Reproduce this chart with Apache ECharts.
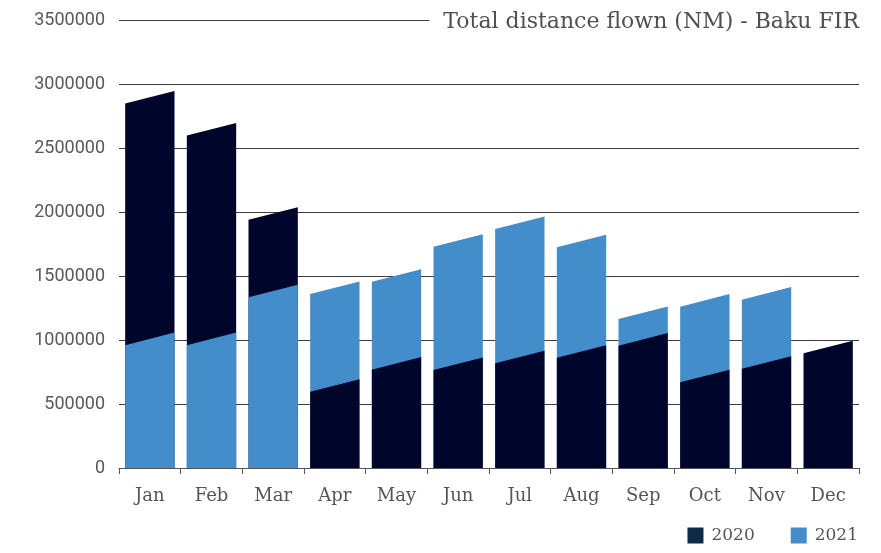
<!DOCTYPE html>
<html>
<head>
<meta charset="utf-8">
<script src="https://cdn.jsdelivr.net/npm/echarts@6/dist/echarts.min.js"></script>
<style>
html,body{margin:0;padding:0;background:#fff;}
#chart{width:881px;height:553px;}
</style>
</head>
<body>
<div id="chart"></div>
<script>
const categories = ['Jan','Feb','Mar','Apr','May','Jun','Jul','Aug','Sep','Oct','Nov','Dec'];
const values2020 = [2900000, 2650000, 1990000, 645000, 818000, 815000, 868000, 911000, 1006000, 719000, 825000, 946000];
const values2021 = [1010000, 1010000, 1384000, 1410000, 1506000, 1779000, 1918000, 1776000, 1214000, 1311000, 1366000, null];
const yTicks = [0, 500000, 1000000, 1500000, 2000000, 2500000, 3000000, 3500000];
const seriesNames = ['2020', '2021'];

const COLOR_2020 = '#00052b';
const COLOR_2021 = '#428dca';
const LEGEND_2020 = '#0c2c4a';
const SLAB = "'DejaVu Serif',serif";
const SANS = "Roboto,'Liberation Sans',sans-serif";

function makeRender(own, other, color) {
  return function (params, api) {
    const i = params.dataIndex;
    const v = own[i];
    if (v == null) return null;
    const base = api.coord([i, 0]);
    const top = api.coord([i, v]);
    const bw = api.size([1, 0])[0] * 0.8;
    const x0 = base[0] - bw / 2, x1 = base[0] + bw / 2;
    const s = 6.3;
    const o = other[i];
    const front = (o != null && o > v);
    return {
      type: 'polygon',
      z2: front ? 20 : 5,
      shape: { points: [[x0, base[1]], [x0, top[1] + s], [x1, top[1] - s], [x1, base[1]]] },
      style: { fill: color }
    };
  };
}

const chart = echarts.init(document.getElementById('chart'), null, { renderer: 'canvas' });
chart.setOption({
  animation: false,
  backgroundColor: '#ffffff',
  title: {
    text: 'Total distance flown (NM) - Baku FIR',
    right: 20,
    top: 9,
    padding: [2, 2, 2, 14],
    backgroundColor: '#ffffff',
    textStyle: { fontFamily: SLAB, fontSize: 22, fontWeight: 'normal', color: '#505050' }
  },
  legend: {
    right: 18,
    bottom: 4,
    itemWidth: 16,
    itemHeight: 16,
    itemGap: 36,
    icon: 'rect',
    textStyle: { fontFamily: SLAB, fontSize: 17, color: '#555555', padding: [0, 0, 0, 3] },
    data: [
      { name: seriesNames[0], itemStyle: { color: LEGEND_2020 } },
      { name: seriesNames[1], itemStyle: { color: COLOR_2021 } }
    ]
  },
  grid: { left: 119, right: 22, top: 20.5, bottom: 85, containLabel: false },
  xAxis: {
    type: 'category',
    data: categories,
    boundaryGap: true,
    axisLine: { show: true, lineStyle: { color: '#555555', width: 1 } },
    axisTick: { show: true, length: 6, alignWithLabel: false, lineStyle: { color: '#555555' } },
    axisLabel: { margin: 19, fontFamily: SLAB, fontSize: 18, color: '#555555' }
  },
  yAxis: {
    type: 'value',
    min: yTicks[0],
    max: yTicks[yTicks.length - 1],
    interval: yTicks[1] - yTicks[0],
    axisLine: { show: false },
    axisTick: { show: false },
    splitLine: { show: true, lineStyle: { color: '#3f3f3f', width: 1 } },
    axisLabel: { margin: 14, fontFamily: SANS, fontSize: 18, color: '#595959', formatter: v => String(v) }
  },
  series: [
    {
      name: seriesNames[0],
      type: 'custom',
      itemStyle: { color: LEGEND_2020 },
      renderItem: makeRender(values2020, values2021, COLOR_2020),
      data: values2020.map((v, i) => [i, v]),
      encode: { x: 0, y: 1 }
    },
    {
      name: seriesNames[1],
      type: 'custom',
      itemStyle: { color: COLOR_2021 },
      renderItem: makeRender(values2021, values2020, COLOR_2021),
      data: values2021.map((v, i) => [i, v]),
      encode: { x: 0, y: 1 }
    }
  ]
});
</script>
</body>
</html>
